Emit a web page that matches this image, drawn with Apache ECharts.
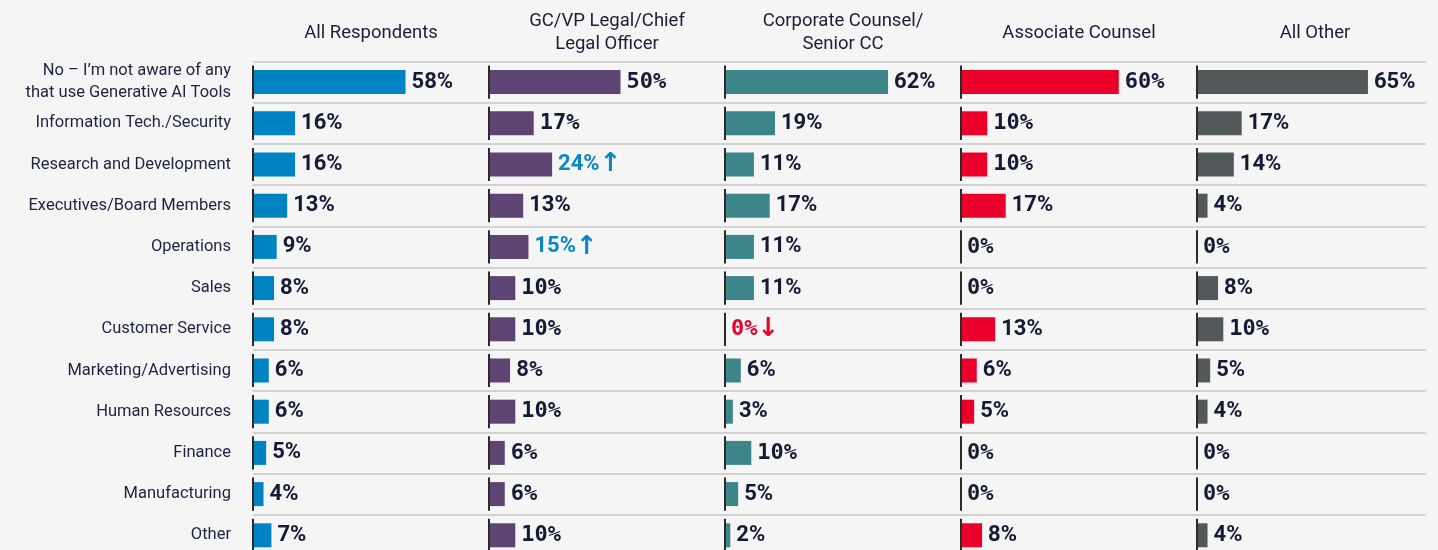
<!DOCTYPE html>
<html>
<head>
<meta charset="utf-8">
<script src="https://cdn.jsdelivr.net/npm/echarts@6/dist/echarts.min.js"></script>
<style>
html,body{margin:0;padding:0;background:#f5f5f5;}
#chart{width:1438px;height:550px;}
</style>
</head>
<body>
<div id="chart"></div>
<script>
const categories = [
  "No – I’m not aware of any\nthat use Generative AI Tools",
  "Information Tech./Security",
  "Research and Development",
  "Executives/Board Members",
  "Operations",
  "Sales",
  "Customer Service",
  "Marketing/Advertising",
  "Human Resources",
  "Finance",
  "Manufacturing",
  "Other"
];
const groups = ["All Respondents", "GC/VP Legal/Chief\nLegal Officer", "Corporate Counsel/\nSenior CC", "Associate Counsel", "All Other"];
const allRespondents = [58, 16, 16, 13, 9, 8, 8, 6, 6, 5, 4, 7];
const gcLegal        = [50, 17, 24, 13, 15, 10, 10, 8, 10, 6, 6, 10];
const corporateCounsel = [62, 19, 11, 17, 11, 11, 0, 6, 3, 10, 5, 2];
const associateCounsel = [60, 10, 10, 17, 0, 0, 13, 6, 5, 0, 0, 8];
const allOther       = [65, 17, 14, 4, 0, 8, 10, 5, 4, 0, 0, 4];
// significance markers: 'up' / 'down' / ''
const gcFlags   = ['', '', 'up', '', 'up', '', '', '', '', '', '', ''];
const corpFlags = ['', '', '', '', '', '', 'down', '', '', '', '', ''];
const noFlags   = ['', '', '', '', '', '', '', '', '', '', '', ''];

const seriesValues = [allRespondents, gcLegal, corporateCounsel, associateCounsel, allOther];
const seriesFlags = [noFlags, gcFlags, corpFlags, noFlags, noFlags];
const colors = ['#0083c2', '#5e4473', '#3c8589', '#ea0029', '#53585b'];

const lefts = [253, 489, 725, 961, 1197];
const widths = [236, 236, 236, 236, 229];
const PX = 2.63;
const TOP = 61.5, ROWH = 41.2;
const textDark = '#151b35';
const upColor = '#0a86c5', downColor = '#ea0029';

const grids = [], xAxes = [], yAxes = [], series = [], graphics = [];
for (let g = 0; g < 5; g++) {
  grids.push({left: lefts[g], top: TOP, width: widths[g], height: ROWH * categories.length, containLabel: false, outerBoundsMode: 'none'});
  xAxes.push({type: 'value', gridIndex: g, min: 0, max: widths[g] / PX, show: false, splitLine: {show: false}});
  yAxes.push({
    type: 'category', gridIndex: g, data: categories, inverse: true,
    axisLine: {show: false}, axisTick: {show: false},
    splitLine: {show: true, lineStyle: {color: '#c6c6c6', width: 1.6}},
    axisLabel: g === 0 ? {
      show: true, margin: 22, fontFamily: 'Roboto', fontSize: 16.5, color: '#1d2340', lineHeight: 22, align: 'right'
    } : {show: false}
  });
  const vals = seriesValues[g], flags = seriesFlags[g];
  series.push({
    type: 'bar', xAxisIndex: g, yAxisIndex: g, data: vals, barWidth: 24,
    itemStyle: {color: colors[g]},
    label: {
      show: true, position: 'right', distance: 6,
      formatter: function (p) {
        const v = String(p.value) + '%';
        const f = flags[p.dataIndex];
        const mono = v.indexOf('0') >= 0 || (g === 1 && !f && p.value !== 13);
        let style = mono ? 'm' : 'p';
        if (f === 'up') return '{' + style + 'Up|' + v + '}{arrUp|↑}';
        if (f === 'down') return '{' + style + 'Down|' + v + '}{arrDown|↓}';
        return '{' + style + '|' + v + '}';
      },
      rich: {
        p: {fontFamily: 'Roboto', fontWeight: 'bold', fontSize: 22, color: textDark},
        m: {fontFamily: 'DejaVu Sans Mono', fontWeight: 'bold', fontSize: 22, color: textDark},
        pUp: {fontFamily: 'Roboto', fontWeight: 'bold', fontSize: 22, color: upColor},
        mUp: {fontFamily: 'DejaVu Sans Mono', fontWeight: 'bold', fontSize: 22, color: upColor},
        pDown: {fontFamily: 'Roboto', fontWeight: 'bold', fontSize: 22, color: downColor},
        mDown: {fontFamily: 'DejaVu Sans Mono', fontWeight: 'bold', fontSize: 22, color: downColor},
        arrUp: {fontFamily: 'DejaVu Sans', fontWeight: 'bold', fontSize: 26, color: upColor},
        arrDown: {fontFamily: 'DejaVu Sans', fontWeight: 'bold', fontSize: 26, color: downColor}
      }
    },
    z: 3
  });
  series.push({
    type: 'custom', xAxisIndex: g, yAxisIndex: g,
    data: categories.map((c, i) => [0, i]),
    encode: {x: 0, y: 1},
    renderItem: function (params, api) {
      const p = api.coord([api.value(0), api.value(1)]);
      const h = api.size([0, 1])[1];
      return {type: 'line', shape: {x1: p[0], y1: p[1] - h / 2 + 4, x2: p[0], y2: p[1] + h / 2 - 4},
              style: {stroke: '#2b2b2b', lineWidth: 2}};
    },
    silent: true, z: 4
  });
  graphics.push({
    type: 'text', x: lefts[g] + 236 / 2, y: 33,
    style: {text: groups[g], align: 'center', verticalAlign: 'middle', fontFamily: 'Roboto', fontSize: 18.5, lineHeight: 23, fill: '#1a1f36'}
  });
}

const chart = echarts.init(document.getElementById('chart'), null, {renderer: 'canvas'});
chart.setOption({
  backgroundColor: '#f5f5f5',
  animation: false,
  grid: grids, xAxis: xAxes, yAxis: yAxes, series: series,
  graphic: graphics
});
</script>
</body>
</html>
